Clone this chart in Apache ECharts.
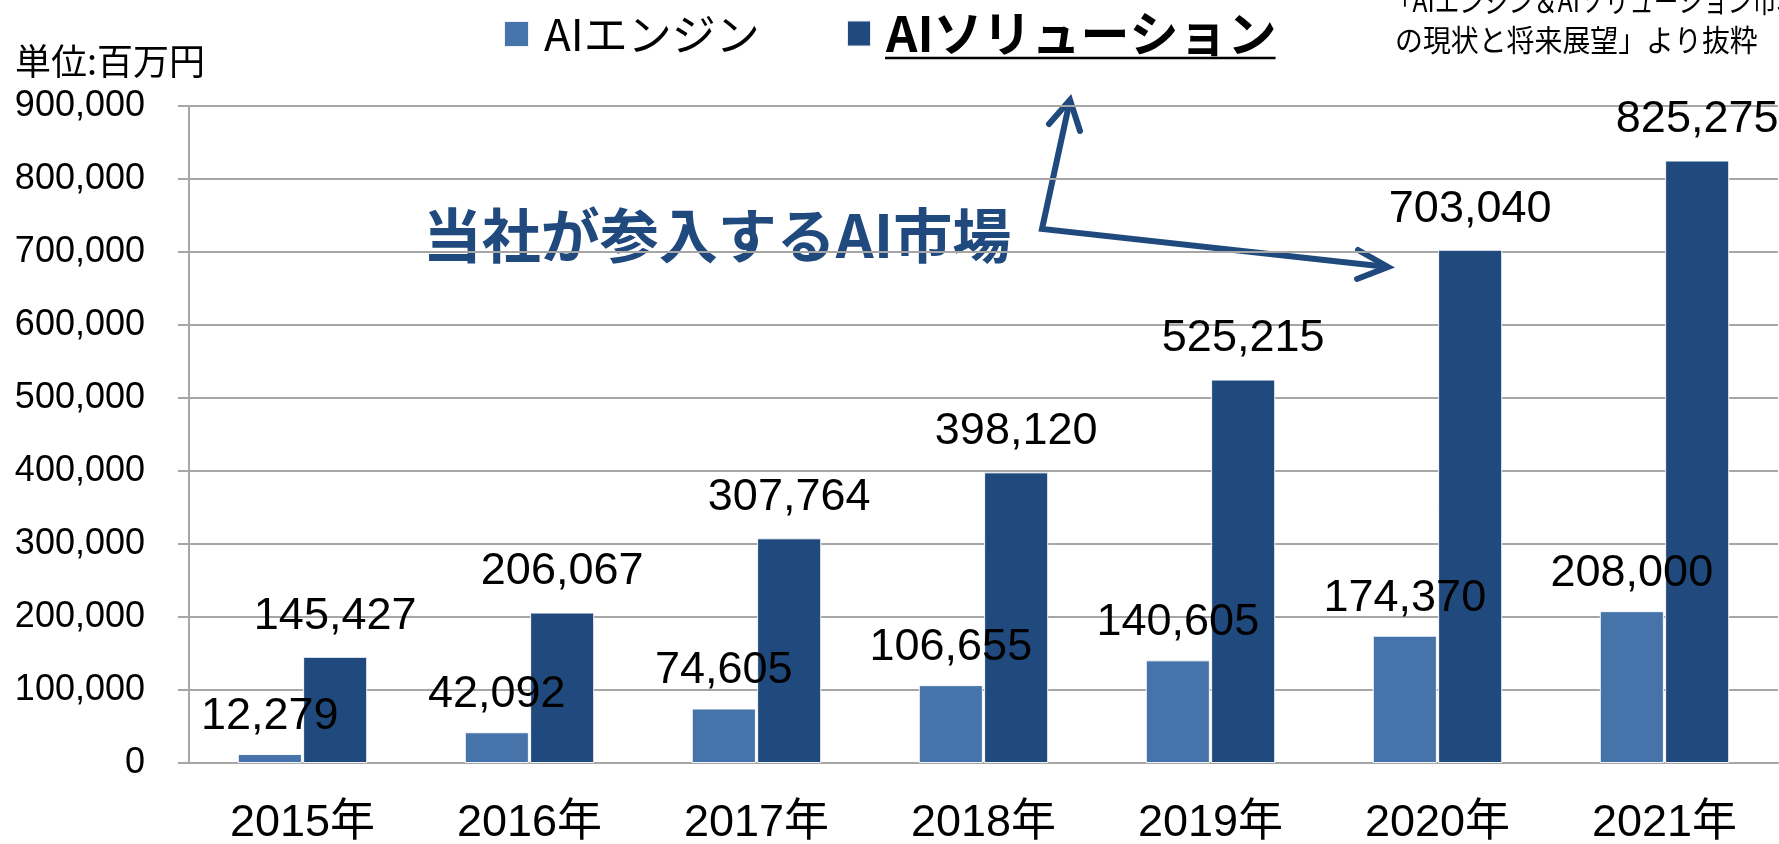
<!DOCTYPE html>
<html>
<head>
<meta charset="utf-8">
<title>AI市場</title>
<script src="https://cdn.jsdelivr.net/npm/echarts@6/dist/echarts.min.js"></script>
<style>
html, body { margin: 0; padding: 0; background: #fff; }
#main { width: 1779px; height: 844px; }
</style>
</head>
<body>
<div id="main"></div>
<script>
var years = ['2015年', '2016年', '2017年', '2018年', '2019年', '2020年', '2021年'];
var engine = [12279, 42092, 74605, 106655, 140605, 174370, 208000];
var solution = [145427, 206067, 307764, 398120, 525215, 703040, 825275];
var seriesNames = ['AIエンジン', 'AIソリューション'];

var numFont = "'Liberation Sans', 'Noto Sans CJK JP', sans-serif";
var jpFont = "'Noto Sans CJK JP', sans-serif";
var gray = '#a6a6a6';
var navy = '#204a7d';

var dom = document.getElementById("main");
var myChart = echarts.init(dom);
var option = null;

function fmt(p) {
    return echarts.format.addCommas(p.value);
}

// width of the bold legend text, so the underline fits it
var ctx = document.createElement('canvas').getContext('2d');
ctx.font = "bold 49px 'Noto Sans CJK JP'";
var boldW = ctx.measureText(seriesNames[1]).width;

option = {
    animation: false,
    color: ['#4673a9', navy],
    grid: {
        left: 189,
        right: 1,
        top: 106,
        bottom: 81,
        outerBoundsMode: 'none'
    },
    legend: [{
        data: [seriesNames[0]],
        left: 503,
        top: 12,
        padding: 0,
        icon: 'rect',
        itemWidth: 25,
        itemHeight: 26,
        textStyle: {
            fontFamily: jpFont,
            fontSize: 44,
            lineHeight: 44,
            color: '#000',
            padding: [0, 0, 0, 10]
        }
    }, {
        data: [seriesNames[1]],
        left: 846,
        top: 9,
        padding: 0,
        icon: 'rect',
        itemWidth: 24,
        itemHeight: 26,
        textStyle: {
            fontFamily: jpFont,
            fontSize: 49,
            lineHeight: 48,
            fontWeight: 'bold',
            color: '#000',
            padding: [0, 0, 0, 10]
        }
    }],
    xAxis: {
        type: 'category',
        data: years,
        axisLine: {
            lineStyle: { color: gray, width: 2 }
        },
        axisTick: {
            length: 15,
            lineStyle: { color: gray, width: 2 }
        },
        axisLabel: {
            margin: 38,
            fontFamily: numFont,
            fontSize: 45,
            color: '#000'
        }
    },
    yAxis: {
        type: 'value',
        min: 0,
        max: 900000,
        interval: 100000,
        axisLine: {
            show: true,
            lineStyle: { color: gray, width: 2 }
        },
        axisTick: {
            show: true,
            length: 11,
            lineStyle: { color: gray, width: 2 }
        },
        splitLine: {
            lineStyle: { color: gray, width: 2 }
        },
        axisLabel: {
            margin: 44,
            fontFamily: numFont,
            fontSize: 36,
            color: '#000',
            formatter: function(v) {
                return echarts.format.addCommas(v);
            }
        }
    },
    series: [{
        name: seriesNames[0],
        type: 'bar',
        data: engine,
        barCategoryGap: '43%',
        barGap: '2%',
        itemStyle: {
            borderColor: 'rgba(255,255,255,0.9)',
            borderWidth: 1
        },
        label: {
            show: true,
            position: 'top',
            distance: 15,
            fontFamily: numFont,
            fontSize: 45,
            color: '#000',
            formatter: fmt
        }
    }, {
        name: seriesNames[1],
        type: 'bar',
        data: solution,
        barCategoryGap: '43%',
        barGap: '2%',
        itemStyle: {
            borderColor: 'rgba(255,255,255,0.9)',
            borderWidth: 1
        },
        label: {
            show: true,
            position: 'top',
            distance: 18,
            fontFamily: numFont,
            fontSize: 45,
            color: '#000',
            formatter: fmt
        }
    }],
    graphic: [{
        // unit
        type: 'text',
        x: 15,
        y: 61,
        style: {
            text: '単位:百万円',
            font: "36px 'Noto Sans CJK JP'",
            fill: '#000',
            verticalAlign: 'middle'
        }
    }, {
        // source note (cut at top right)
        type: 'text',
        x: 1388,
        y: 1,
        scaleX: 0.82,
        style: {
            text: '「AIエンジン＆AIソリューション市場',
            font: "30px 'Noto Sans CJK JP'",
            fill: '#000',
            verticalAlign: 'middle'
        }
    }, {
        type: 'text',
        x: 1395,
        y: 40,
        scaleX: 0.93,
        style: {
            text: 'の現状と将来展望」より抜粋',
            font: "30px 'Noto Sans CJK JP'",
            fill: '#000',
            verticalAlign: 'middle'
        }
    }, {
        // underline under the bold legend item
        type: 'line',
        shape: { x1: 885, y1: 58, x2: 885 + boldW, y2: 58 },
        style: { stroke: '#000', lineWidth: 2.5 }
    }, {
        type: 'rect',
        shape: { x: 403, y: 206, width: 636, height: 60 },
        style: { fill: '#fff' }
    }, {
        type: 'text',
        x: 717,
        y: 236,
        style: {
            text: '当社が参入するAI市場',
            font: "bold 59px 'Noto Sans CJK JP'",
            fill: navy,
            align: 'center',
            verticalAlign: 'middle'
        }
    }, {
        // arrows
        type: 'polyline',
        shape: { points: [[1070, 100], [1042, 229], [1388, 267]] },
        style: { stroke: navy, lineWidth: 6, fill: null, lineJoin: 'miter' }
    }, {
        type: 'polyline',
        shape: { points: [[1049, 124], [1070, 100], [1080, 131]] },
        style: { stroke: navy, lineWidth: 6, fill: null, lineCap: 'round' }
    }, {
        type: 'polyline',
        shape: { points: [[1358, 250], [1388, 267], [1357, 279]] },
        style: { stroke: navy, lineWidth: 6, fill: null, lineCap: 'round' }
    }]
};

if (option && typeof option === "object") {
    myChart.setOption(option, true);
}
</script>
</body>
</html>
